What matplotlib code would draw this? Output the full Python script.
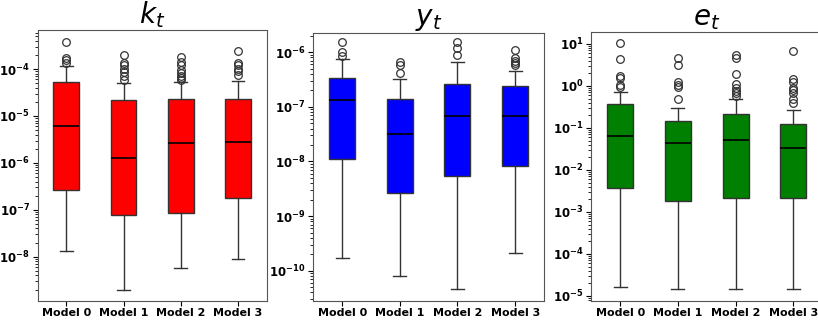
import matplotlib
matplotlib.use("Agg")
import matplotlib.pyplot as plt
import math

plt.rcParams['mathtext.default'] = 'regular'

models = ['Model 0', 'Model 1', 'Model 2', 'Model 3']
titles = [r'$\mathit{k_t}$', r'$\mathit{y_t}$', r'$\mathit{e_t}$']
colors = ['red', 'blue', 'green']

# box statistics, as log10 values
# each row: whisker low, q1, median, q3, whisker high
k_stats = [[-7.87, -6.58, -5.22, -4.27, -3.93],
           [-8.70, -7.11, -5.89, -4.66, -4.30],
           [-8.25, -7.06, -5.58, -4.64, -4.28],
           [-8.04, -6.75, -5.55, -4.64, -4.25]]
k_fliers = [[-3.43, -3.76, -3.81, -3.86],
            [-3.69, -3.87, -3.92, -3.99, -4.06, -4.15, -4.23],
            [-3.74, -3.84, -3.92, -4.01, -4.09, -4.15, -4.19, -4.23],
            [-3.61, -3.86, -3.91, -4.00, -4.05, -4.12]]

y_stats = [[-9.76, -7.95, -6.88, -6.48, -6.12],
           [-10.09, -8.58, -7.50, -6.85, -6.50],
           [-10.33, -8.27, -7.16, -6.58, -6.18],
           [-9.67, -8.09, -7.16, -6.61, -6.35]]
y_fliers = [[-5.82, -5.99, -6.07],
            [-6.18, -6.23, -6.39],
            [-5.82, -5.93, -6.05],
            [-5.96, -6.11, -6.16, -6.20, -6.23]]

e_stats = [[-4.79, -2.42, -1.19, -0.44, -0.14],
           [-4.83, -2.74, -1.37, -0.84, -0.52],
           [-4.83, -2.68, -1.28, -0.67, -0.31],
           [-4.83, -2.68, -1.48, -0.90, -0.57]]
e_fliers = [[1.02, 0.63, 0.23, 0.18, 0.02, -0.03],
            [0.67, 0.49, 0.10, 0.02, -0.03, -0.31],
            [0.74, 0.67, 0.29, 0.04, -0.04, -0.11, -0.17, -0.23],
            [0.83, 0.16, 0.10, -0.05, -0.09, -0.17, -0.30, -0.40]]

ylims = [(-8.95, -3.17), (-10.56, -5.65), (-5.13, 1.29)]
positions = [[0.046, 0.070, 0.280, 0.837],
             [0.383, 0.070, 0.282, 0.828],
             [0.723, 0.070, 0.282, 0.832]]


def make_stats(stats, fliers):
    out = []
    for s, f in zip(stats, fliers):
        out.append({'whislo': 10 ** s[0], 'q1': 10 ** s[1], 'med': 10 ** s[2],
                    'q3': 10 ** s[3], 'whishi': 10 ** s[4],
                    'fliers': [10 ** v for v in f]})
    return out


fig = plt.figure(figsize=(8.18, 3.24), dpi=100)

all_stats = [(k_stats, k_fliers), (y_stats, y_fliers), (e_stats, e_fliers)]
for i in range(3):
    ax = fig.add_axes(positions[i])
    bs = make_stats(all_stats[i][0], all_stats[i][1])
    ax.bxp(bs, positions=[1, 2, 3, 4], widths=0.45, patch_artist=True,
           boxprops=dict(facecolor=colors[i], edgecolor='#333333', linewidth=1.0),
           medianprops=dict(color='black', linewidth=1.2),
           whiskerprops=dict(color='#333333', linewidth=1.0),
           capprops=dict(color='#333333', linewidth=1.0),
           flierprops=dict(marker='o', markerfacecolor='none', markeredgecolor='#333333',
                           markersize=5.5, markeredgewidth=0.9))
    ax.set_yscale('log')
    lo, hi = ylims[i]
    ax.set_yticks([10.0 ** d for d in range(math.ceil(lo), math.floor(hi) + 1)])
    ax.set_ylim(10 ** lo, 10 ** hi)
    ax.set_xlim(0.5, 4.5)
    ax.set_xticks([1, 2, 3, 4])
    ax.set_xticklabels(models, fontsize=8, fontweight='bold')
    ax.tick_params(axis='x', pad=1.5)
    ax.tick_params(axis='y', labelsize=8.5, pad=2)
    for lab in ax.get_yticklabels():
        lab.set_fontweight('bold')
    ax.set_title(titles[i], fontsize=20, pad=2)
    for sp in ax.spines.values():
        sp.set_color('#555555')

fig.savefig('out.png', dpi=100)
